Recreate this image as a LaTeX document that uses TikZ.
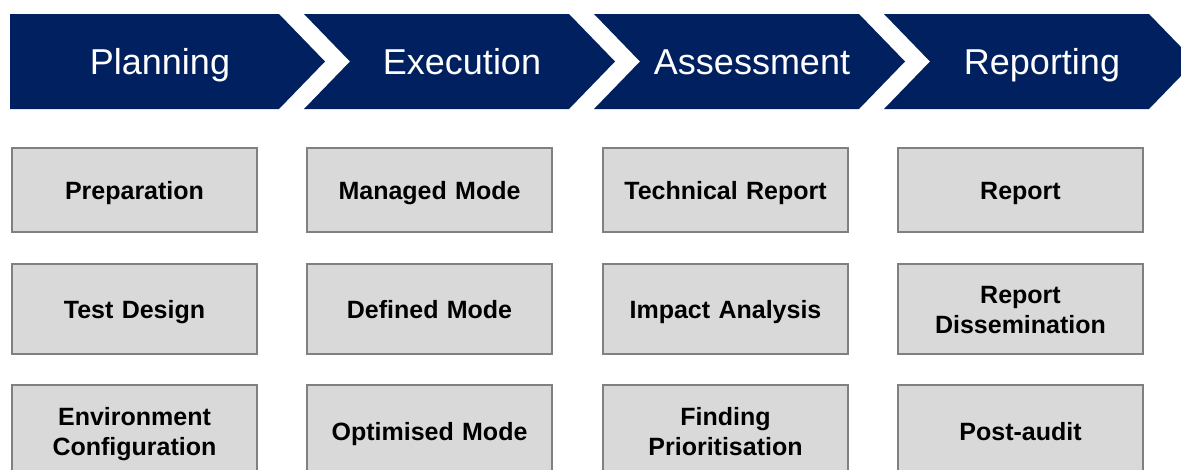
\documentclass[tikz,border=0pt]{standalone}
\usepackage{fontspec}
\setmainfont{Liberation Sans}
\definecolor{navy}{RGB}{0,32,96}
\definecolor{boxfill}{RGB}{217,217,217}
\definecolor{boxline}{RGB}{128,128,128}
\newcommand{\bxstrut}{\rule[-6pt]{0pt}{30pt}}
\begin{document}
\begin{tikzpicture}[x=1pt,y=-1pt,
  phase/.style={text=white,font=\fontsize{36}{40}\selectfont,anchor=base,inner sep=0pt},
  item/.style={draw=boxline,line width=2pt,fill=boxfill,anchor=north west,inner sep=0pt,
    minimum width=245pt,text width=240pt,align=center,
    font=\fontsize{25}{30}\selectfont\bfseries}]
\useasboundingbox (0,0) rectangle (1181,469);
\clip (0,0) rectangle (1181,469);
% chevrons
\fill[navy] (10,14) -- (279,14) -- (325,61.5) -- (279,109) -- (10,109) -- cycle;
\foreach \i in {1,2,3}{
  \fill[navy] ({14+290*\i},14) -- ({279+290*\i},14) -- ({325+290*\i},61.5) -- ({279+290*\i},109)
    -- ({14+290*\i},109) -- ({60+290*\i},61.5) -- cycle;
}
\node[phase] (p1) at (160,74) {Planning};
\node[phase] (p2) at (462,74) {Execution};
\node[phase] (p3) at (752,74) {Assessment};
\node[phase] (p4) at (1042,74) {Reporting};
% row 1
\node[item,minimum height=84pt] (a1) at (11,147) {\bxstrut Preparation};
\node[item,minimum height=84pt] (b1) at (306,147) {\bxstrut Managed Mode};
\node[item,minimum height=84pt] (c1) at (602,147) {\bxstrut Technical Report};
\node[item,minimum height=84pt] (d1) at (897,147) {\bxstrut Report};
% row 2
\node[item,minimum height=90pt] (a2) at (11,263) {\bxstrut Test Design};
\node[item,minimum height=90pt] (b2) at (306,263) {\bxstrut Defined Mode};
\node[item,minimum height=90pt] (c2) at (602,263) {\bxstrut Impact Analysis};
\node[item,minimum height=90pt] (d2) at (897,263) {\bxstrut Report\\\bxstrut Dissemination};
% row 3
\node[item,minimum height=92pt] (a3) at (11,384) {\bxstrut Environment\\\bxstrut Configuration};
\node[item,minimum height=92pt] (b3) at (306,384) {\bxstrut Optimised Mode};
\node[item,minimum height=92pt] (c3) at (602,384) {\bxstrut Finding\\\bxstrut Prioritisation};
\node[item,minimum height=92pt] (d3) at (897,384) {\bxstrut Post-audit};
\end{tikzpicture}
\end{document}
